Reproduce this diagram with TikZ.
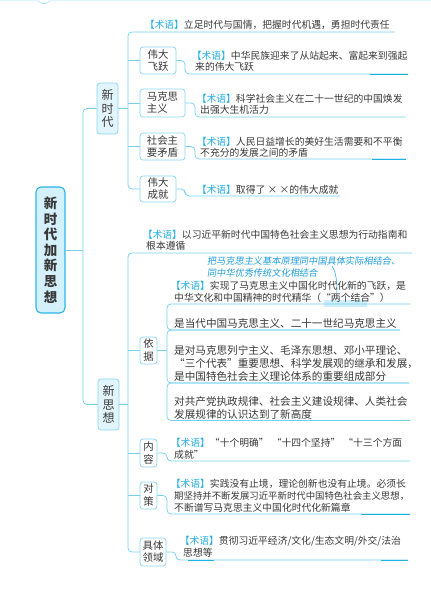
\documentclass[tikz,border=0pt]{standalone}
\usepackage{fontspec}
\setmainfont{Noto Sans CJK SC}
\newfontfamily\handf{Noto Sans CJK SC}[FakeSlant=0.15]
\definecolor{linec}{HTML}{74D1F1}
\definecolor{darkl}{HTML}{1CB2E8}
\definecolor{termc}{HTML}{27AEE4}
\definecolor{boxc}{HTML}{86D6F2}
\definecolor{hubfill}{HTML}{E2F5FC}
\definecolor{rootfill}{HTML}{D3F0FB}
\definecolor{rootline}{HTML}{2BB5E8}
\definecolor{txtc}{HTML}{383838}
\definecolor{handc}{HTML}{1E9EDF}
\definecolor{hilite}{HTML}{CFEFFA}
\newcommand{\shuyu}{{\kern-0.35em\color{termc}【术语】}}
\begin{document}
\begin{tikzpicture}[x=1pt,y=-1pt,
  conn/.style={draw=linec, line width=0.75pt, rounded corners=4pt},
  txt/.style={anchor=base west, inner sep=0pt, text=txtc, font=\fontsize{9.8}{11}\selectfont},
  txtb/.style={txt, font=\fontsize{10.6}{12}\selectfont},
  bx/.style={draw=boxc, line width=0.7pt, rounded corners=3pt, fill=white, inner sep=0pt, align=center, text=txtc, font=\fontsize{10.4}{12}\selectfont},
  bxl/.style={bx, align=left},
  bxo/.style={bx, font=\fontsize{10.4}{13}\selectfont},
  hub/.style={bx, fill=hubfill, font=\fontsize{12}{13.5}\selectfont},
  hand/.style={anchor=base west, inner sep=0pt, text=handc, font=\handf\fontsize{9.2}{11}\selectfont}]
\useasboundingbox (0,0) rectangle (431,598);
% top decoration
\draw[linec!60, line width=0.6pt] (0,0.8) -- (38,0.8) -- (42,3.5) -- (46,3.5) -- (50,0.8) -- (431,0.8);

% root and hubs
\node[draw=rootline, line width=1.1pt, rounded corners=5pt, fill=rootfill, minimum width=29pt, minimum height=126pt, inner sep=0pt, align=center, font=\fontsize{13.5}{15.6}\selectfont\bfseries, text=txtc] (root) at (50.5,250) {新\\时\\代\\加\\新\\思\\想};
\node[hub, minimum width=21pt, minimum height=51pt] (xsd) at (107.5,108.5) {新\\时\\代};
\node[hub, minimum width=21pt, minimum height=51pt] (xsx) at (108.5,404.5) {新\\思\\想};

\coordinate (rj) at (83,250);
\draw[conn] (root.east) -- (rj);
\draw[conn] (xsd.west) -- (83,108.5) -- (83,404.5) -- (xsx.west);

% ===== 新时代 =====
\node[bx, minimum width=36pt, minimum height=27pt] (wdfy) at (158,60.5) {伟大\\飞跃};
\node[bxl, minimum width=45pt, minimum height=28pt] (mkszy) at (162.5,103) {马克思\\主义};
\node[bxl, minimum width=45pt, minimum height=27pt] (shzymd) at (162.5,146.5) {社会主\\要矛盾};
\node[bx, minimum width=36pt, minimum height=26pt] (wdcj) at (158,189) {伟大\\成就};

\coordinate (t1end) at (395,32);
\draw[conn] (xsd.east) -- (128,108.5);
\draw[conn] (t1end) -- (128,32) -- (128,189) -- (wdcj.west);
\draw[conn] (128,60.5) -- (wdfy.west);
\draw[conn] (128,103) -- (mkszy.west);
\draw[conn] (128,146.5) -- (shzymd.west);

\draw[conn] (wdfy.east) -- (185,60.5) -- (185,74) -- (408,74);
\draw[conn] (mkszy.east) -- (195,103) -- (195,117) -- (406,117);
\draw[conn] (shzymd.east) -- (195,146.5) -- (195,159) -- (406,159);
\draw[conn] (wdcj.east) -- (185,189) -- (185,196) -- (340,196);
\draw[darkl, line width=0.75pt] (370,74) -- (408,74);
\draw[darkl, line width=0.75pt] (372,159) -- (406,159);

\node[txt] (t1) at (148,28.7) {\shuyu 立足时代与国情，把握时代机遇，勇担时代责任};
\node[txt] (t2a) at (195,59.7) {\shuyu 中华民族迎来了从站起来、富起来到强起};
\node[txt] (t2b) at (195,70.7) {来的伟大飞跃};
\node[txt] (t3a) at (200,102.7) {\shuyu 科学社会主义在二十一世纪的中国焕发};
\node[txt] (t3b) at (200,113.7) {出强大生机活力};
\node[txt] (t4a) at (200,145.7) {\shuyu 人民日益增长的美好生活需要和不平衡};
\node[txt] (t4b) at (200,156.7) {不充分的发展之间的矛盾};
\node[txt] (t5) at (200,193.7) {\shuyu 取得了 × ×的伟大成就};

% ===== 新思想 =====
\node[bxo, minimum width=17pt, minimum height=27pt] (yj) at (148.5,350.5) {依\\据};
\node[bxo, minimum width=17pt, minimum height=28pt] (nr) at (148.5,453) {内\\容};
\node[bxo, minimum width=17pt, minimum height=27pt] (dc) at (148.5,495.5) {对\\策};
\node[bx, minimum width=26pt, minimum height=28pt] (jtly) at (153,552) {具体\\领域};

\coordinate (s1end) at (412,253);
\draw[conn] (xsx.east) -- (128,404.5);
\draw[conn] (s1end) -- (128,253) -- (128,552) -- (jtly.west);
\draw[conn] (128,350.5) -- (yj.west);
\draw[conn] (128,453) -- (nr.west);
\draw[conn] (128,495.5) -- (dc.west);

\node[txt] (s1a) at (146,238.7) {\shuyu 以习近平新时代中国特色社会主义思想为行动指南和};
\node[txt] (s1b) at (146,249.7) {根本遵循};

% handwritten note
\fill[hilite] (324,300) rectangle (367,307);
\node[hand] (h1) at (207,264.5) {把马克思主义基本原理同中国具体实际相结合、};
\node[hand] (h2) at (207,276.5) {同中华优秀传统文化相结合};
\coordinate (p1) at (332,266);
\coordinate (p2) at (337,293);
\draw[handc, line width=0.5pt] (p1) .. controls (336,272) and (337,281) .. (p2);

\node[txt] (s2a) at (174,289.7) {\shuyu 实现了马克思主义中国化时代化新的飞跃，是};
\node[txt] (s2b) at (174,301.7) {中华文化和中国精神的时代精华（“两个结合”）};

% bracket under 依据
\draw[conn] (410,304) -- (167,304) -- (167,330) -- (400,330);
\draw[conn] (400,330) -- (167,330) -- (167,383) -- (409,383);
\draw[conn] (409,383) -- (167,383) -- (167,420.5) -- (410,420.5);
\draw[conn] (yj.east) -- (167,350.5);

\node[txtb] (a1) at (174,327) {是当代中国马克思主义、二十一世纪马克思主义};
\node[txtb] (b1) at (174,354) {是对马克思列宁主义、毛泽东思想、邓小平理论、};
\node[txtb] (b2) at (174,367) {“三个代表”重要思想、科学发展观的继承和发展，};
\node[txtb] (b3) at (174,380) {是中国特色社会主义理论体系的重要组成部分};
\node[txtb] (c1) at (174,405) {对共产党执政规律、社会主义建设规律、人类社会};
\node[txtb] (c2) at (174,418) {发展规律的认识达到了新高度};

% 内容
\draw[conn] (nr.east) -- (167,453) -- (167,461) -- (410,461);
\node[txt] (n1) at (174,446.7) {\shuyu “十个明确”\hspace{3pt}“十四个坚持”\hspace{3pt}“十三个方面};
\node[txt] (n2) at (174,458.7) {成就”};

% 对策
\draw[conn] (dc.east) -- (167,495.5) -- (167,514) -- (410,514);
\draw[darkl, line width=0.75pt] (361,514) -- (410,514);
\node[txt] (d1) at (174,487.7) {\shuyu 实践没有止境，理论创新也没有止境。必须长};
\node[txt, font=\fontsize{9.4}{11}\selectfont] (d2) at (174,499.7) {期坚持并不断发展习近平新时代中国特色社会主义思想，};
\node[txt] (d3) at (174,511.7) {不断谱写马克思主义中国化时代化新篇章};

% 具体领域
\draw[conn] (jtly.east) -- (176,552) -- (176,560) -- (408,560);
\draw[darkl, line width=0.75pt] (381,560) -- (408,560);
\draw[darkl, line width=0.75pt] (188,560) -- (214,560);
\node[txt] (j1) at (183,544.7) {\shuyu 贯彻习近平经济/文化/生态文明/外交/法治};
\node[txt] (j2) at (183,556.7) {思想等};
\end{tikzpicture}
\end{document}
